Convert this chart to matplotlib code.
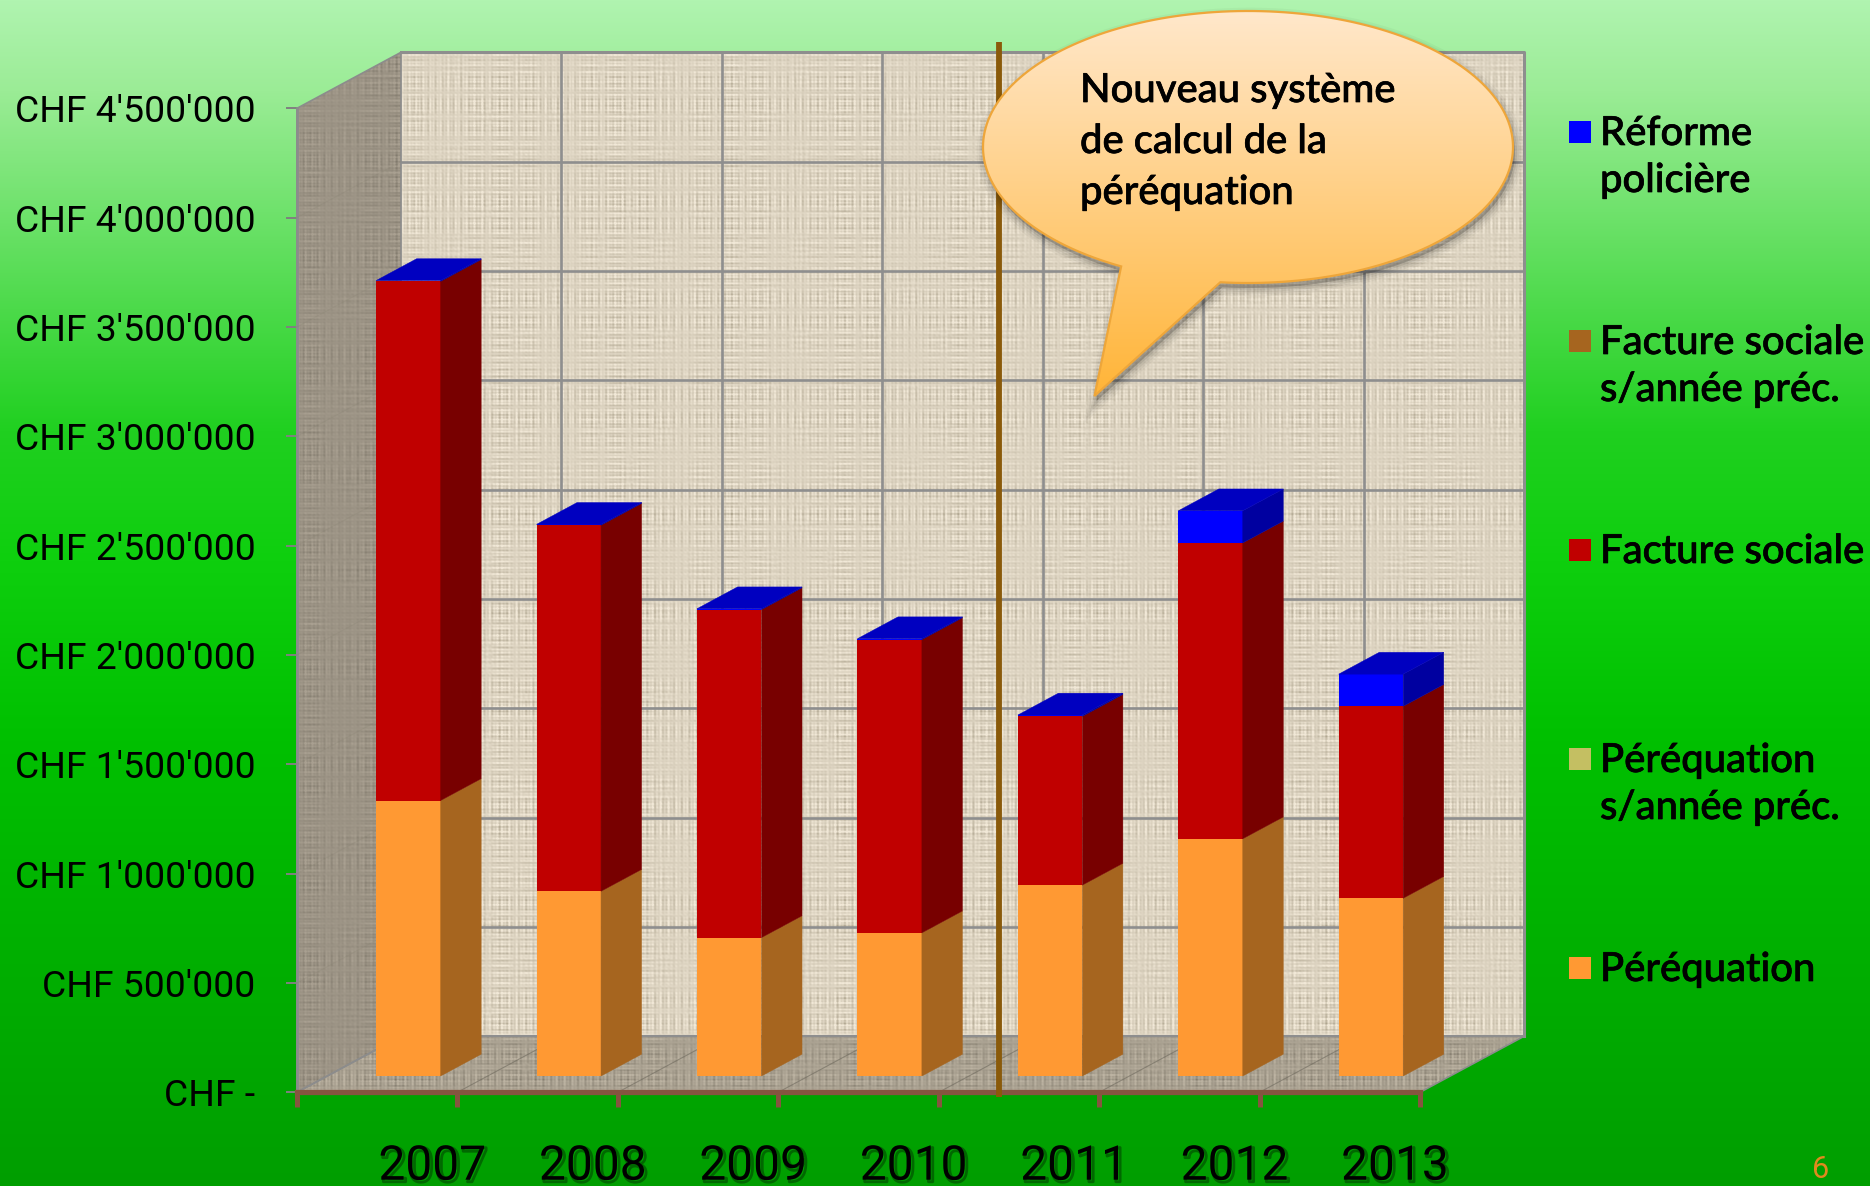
#!/usr/bin/env python3
import numpy as np
import matplotlib
matplotlib.use('Agg')
import matplotlib.pyplot as plt
import matplotlib.patheffects as pe
from matplotlib.colors import to_rgb
from matplotlib.patches import Polygon, PathPatch, Rectangle
from matplotlib.path import Path
from matplotlib.ticker import FixedLocator, FixedFormatter

years = ['2007', '2008', '2009', '2010', '2011', '2012', '2013']
perequation = [1260000, 845000, 633000, 655000, 873000, 1085000, 813000]
perequation_prec = [0, 0, 0, 0, 0, 0, 0]
facture = [2374000, 1674000, 1500000, 1341000, 772000, 1353000, 878000]
facture_prec = [0, 0, 0, 0, 0, 0, 0]
reforme = [4000, 4000, 4000, 4000, 6000, 147000, 147000]

ytick_vals = [0, 500000, 1000000, 1500000, 2000000, 2500000, 3000000, 3500000, 4000000, 4500000]
ytick_labels = ['CHF -', "CHF 500'000", "CHF 1'000'000", "CHF 1'500'000", "CHF 2'000'000",
                "CHF 2'500'000", "CHF 3'000'000", "CHF 3'500'000", "CHF 4'000'000", "CHF 4'500'000"]

legend_labels = [['Réforme', 'policière'], ['Facture sociale', 's/année préc.'], ['Facture sociale'],
                 ['Péréquation', 's/année préc.'], ['Péréquation']]
legend_colors = ['#0000ff', '#a6651f', '#c00000', '#c4bf62', '#ff9933']
callout_lines = ['Nouveau système', 'de calcul de la', 'péréquation']

W, H = 1870, 1186
fig = plt.figure(figsize=(W / 100, H / 100), dpi=100)

# background gradient
ax_bg = fig.add_axes([0, 0, 1, 1], zorder=0)
stops_y = [0, 90, 430, 560, 740, 1186]
stops_r = [176, 155, 32, 14, 0, 0]
stops_g = [244, 236, 208, 207, 192, 158]
stops_b = [176, 150, 32, 14, 0, 0]
rows = np.arange(H)
grad = np.stack([np.interp(rows, stops_y, s) for s in (stops_r, stops_g, stops_b)], axis=1)[:, None, :] / 255
ax_bg.imshow(grad, aspect='auto', extent=(0, W, H, 0))
ax_bg.axis('off')


def linen(w, h, dark, light):
    # woven looking texture made of crossing threads with uneven weight
    xs = np.arange(w)
    ys = np.arange(h)
    vx = np.sin(xs * 1.73 + 3 * np.sin(xs * 0.037)) + 0.7 * np.sin(xs * 0.83 + 2 * np.sin(xs * 0.059))
    vy = np.sin(ys * 1.91 + 3 * np.sin(ys * 0.041)) + 0.7 * np.sin(ys * 0.77 + 2 * np.sin(ys * 0.067))
    mx = np.abs(np.sin(ys * 0.13) * np.sin(ys * 0.031 + 1)) + 0.35 * np.sin(ys * 0.71) ** 2
    my = np.abs(np.sin(xs * 0.11) * np.sin(xs * 0.027 + 2)) + 0.35 * np.sin(xs * 0.67) ** 2
    v = vx[None, :] * mx[:, None] + vy[:, None] * my[None, :]
    blotch = np.sin(xs * 0.09)[None, :] * np.sin(ys * 0.07)[:, None]
    v = v - 0.5 * np.maximum(blotch, 0) * (np.sin(xs * 1.3)[None, :] + np.sin(ys * 1.1)[:, None])
    # soften a little
    v = (v + np.roll(v, 1, axis=0) + np.roll(v, 1, axis=1)) / 3
    v = np.clip(0.70 + v * 0.22, 0, 1)[:, :, None]
    return np.array(to_rgb(dark)) * (1 - v) + np.array(to_rgb(light)) * v


# front plane of the chart: one unit of x is one year
ax = fig.add_axes([297 / W, (H - 1092.3) / H, 1123 / W, 984 / H], zorder=2)
ax.patch.set_alpha(0)
YMAX = 4500000
DX = 104 / 160.4
DY = 56 / 984 * YMAX

im = ax.imshow(linen(1123, 984, '#aca28c', '#f2e9d8'), aspect='auto',
               extent=(DX, 7 + DX, DY, YMAX + DY), origin='lower', zorder=1)
im.set_clip_on(False)

wall = Polygon([(0, 0), (DX, DY), (DX, YMAX + DY), (0, YMAX)], closed=True, transform=ax.transData,
               fc='none', ec='#8c8c8c', lw=1.2, zorder=1.5, clip_on=False)
ax.add_patch(wall)
im2 = ax.imshow(linen(104, 1040, '#7c7568', '#aaa192'), aspect='auto',
                extent=(0, DX, 0, YMAX + DY), origin='lower', zorder=1)
im2.set_clip_box(fig.bbox)
im2.set_clip_path(wall)
ax.plot([0, 0], [0, YMAX], color='#8c8c8c', lw=2, zorder=2, clip_on=False)

floor = Polygon([(0, 0), (7, 0), (7 + DX, DY), (DX, DY)], closed=True, transform=ax.transData,
                fc='none', ec='#8c8c8c', lw=1.2, zorder=1.5, clip_on=False)
ax.add_patch(floor)
im3 = ax.imshow(linen(1227, 56, '#7d7668', '#bdb4a3'), aspect='auto',
                extent=(0, 7 + DX, 0, DY), origin='lower', zorder=1)
im3.set_clip_box(fig.bbox)
im3.set_clip_path(floor)

# grid on back wall and floor
for v in ytick_vals[1:-1]:
    ax.plot([DX, 7 + DX], [v + DY, v + DY], color='#8e8e8e', lw=1.9, zorder=2, clip_on=False)
    ax.plot([0, DX], [v, v + DY], color='#85806f', lw=0.8, alpha=0.2, zorder=2, clip_on=False)
for i in range(1, 7):
    ax.plot([i + DX, i + DX], [DY, YMAX + DY], color='#8e8e8e', lw=1.9, zorder=2, clip_on=False)
    ax.plot([i, i + DX], [0, DY], color='#6f6a5e', lw=0.8, alpha=0.6, zorder=2, clip_on=False)
ax.plot([DX, 7 + DX, 7 + DX], [YMAX + DY, YMAX + DY, DY], color='#8e8e8e', lw=2.2, zorder=2, clip_on=False)
ax.plot([DX, 7 + DX], [DY, DY], color='#8e8e8e', lw=1.5, zorder=2, clip_on=False)

# stacked 3d bars
BAR_W = 64.5 / 160.4
BAR_START = 0.29
BAR_DEPTH = 0.39
series = [
    (perequation, '#ff9933', '#a6651f'),
    (perequation_prec, '#c4bf62', '#85813f'),
    (facture, '#c00000', '#780000'),
    (facture_prec, '#a6651f', '#704413'),
    (reforme, '#0000ff', '#0000a0'),
]
x_pos = np.arange(len(years)) + 0.5
for i, xc in enumerate(x_pos):
    bottom = 0
    x0 = xc + BAR_START * DX - BAR_W / 2 + 0.006
    x1 = x0 + BAR_W
    sx = BAR_DEPTH * DX
    sy = BAR_DEPTH * DY
    y_base = BAR_START * DY
    for vals, front, side in series:
        v = vals[i]
        if v <= 0:
            continue
        ax.bar(x0, v, width=BAR_W, bottom=y_base + bottom, align='edge', color=front, zorder=3, clip_on=False)
        ax.add_patch(Polygon([(x1, y_base + bottom), (x1 + sx, y_base + bottom + sy),
                              (x1 + sx, y_base + bottom + v + sy), (x1, y_base + bottom + v)],
                             closed=True, fc=side, ec=side, lw=0.3, zorder=3, clip_on=False))
        bottom += v
    top = y_base + bottom
    ax.add_patch(Polygon([(x0, top), (x1, top), (x1 + sx, top + sy), (x0 + sx, top + sy)],
                         closed=True, fc='#0000c0', ec='#0000c0', lw=0.3, zorder=3, clip_on=False))

# axes
ax.set_xlim(0, 7)
ax.set_ylim(0, YMAX)
for s in ('top', 'right', 'left'):
    ax.spines[s].set_visible(False)
ax.spines['bottom'].set_color('#85553f')
ax.spines['bottom'].set_linewidth(3.8)
ax.spines['bottom'].set_zorder(4)
ax.yaxis.set_major_locator(FixedLocator(ytick_vals))
ax.yaxis.set_major_formatter(FixedFormatter(ytick_labels))
ax.tick_params(axis='y', length=8, width=1.4, color='#808080', pad=22, labelsize=26.8, labelcolor='black')
for t in ax.get_yticklabels():
    t.set_family('Roboto')
ax.xaxis.set_major_locator(FixedLocator(range(8)))
ax.xaxis.set_major_formatter(FixedFormatter([''] * 8))
ax.tick_params(axis='x', which='major', length=11, width=3.6, color='#85553f')
ax.xaxis.set_minor_locator(FixedLocator(np.arange(len(years)) + 0.843))
ax.xaxis.set_minor_formatter(FixedFormatter(years))
ax.tick_params(axis='x', which='minor', length=0, pad=37, labelsize=34.5)
for t in ax.xaxis.get_minorticklabels():
    t.set_family('Roboto')
    t.set_path_effects([pe.SimpleLineShadow(offset=(1.5, -1.5), shadow_color='#003300', alpha=0.5, linewidth=2),
                        pe.Normal()])

# separator between the two calculation systems
ax.plot([4.375, 4.375], [-22000, 4803000], color='#8a5a0a', lw=4.2, zorder=5, clip_on=False, solid_capstyle='butt')

# overlay in pixel coordinates for legend and callout
ax_px = fig.add_axes([0, 0, 1, 1], zorder=5)
ax_px.set_xlim(0, W)
ax_px.set_ylim(H, 0)
ax_px.axis('off')

cx, cy, rx, ry = 1248, 147, 265, 136
t = np.radians(np.linspace(96, 118.6 - 360, 200))
verts = np.column_stack([cx + rx * np.cos(t), cy + ry * np.sin(t)])
verts = np.vstack([verts, [[1094.5, 396]], verts[:1]])
codes = [Path.MOVETO] + [Path.LINETO] * (len(verts) - 2) + [Path.CLOSEPOLY]
# soft shadow under the bubble
for lw, al in [(12, 0.03), (9, 0.04), (6, 0.05), (3, 0.07)]:
    ax_px.add_patch(PathPatch(Path(verts + [2, 5], codes), fc='black', ec='black', lw=lw, alpha=al, zorder=1))
bubble = PathPatch(Path(verts, codes), fc='none', ec='#eea63a', lw=1.6, zorder=3)
ax_px.add_patch(bubble)
c_top = np.array(to_rgb('#ffe8cc'))
c_bot = np.array(to_rgb('#ffb436'))
g = np.linspace(0, 1, 400)[:, None, None]
bub_im = ax_px.imshow(c_top * (1 - g) + c_bot * g, aspect='auto', extent=(950, 1540, 400, 8), zorder=2)
bub_im.set_clip_path(bubble)
ax_px.set_xlim(0, W)
ax_px.set_ylim(H, 0)

heavy = [pe.withStroke(linewidth=0.5, foreground='black')]
for line, ty in zip(callout_lines, [102, 153, 204]):
    ax_px.text(1080, ty, line, family='Lato', fontsize=28.8, weight='medium', color='black',
               va='baseline', zorder=4, path_effects=heavy)

for n, (lines, col) in enumerate(zip(legend_labels, legend_colors)):
    ym = 132 + 209 * n
    ax_px.add_patch(Rectangle((1569, ym - 11), 22, 22, fc=col, ec='none'))
    for k, line in enumerate(lines):
        ax_px.text(1600, ym + 13 + 47 * k, line, family='Lato', fontsize=28.8, weight='medium', color='black',
                   va='baseline', path_effects=heavy)

ax_px.text(1821, 1169, '6', family='Roboto', fontsize=22, color='#e08a1e', ha='center', va='center')

fig.savefig('out.png', dpi=100)
